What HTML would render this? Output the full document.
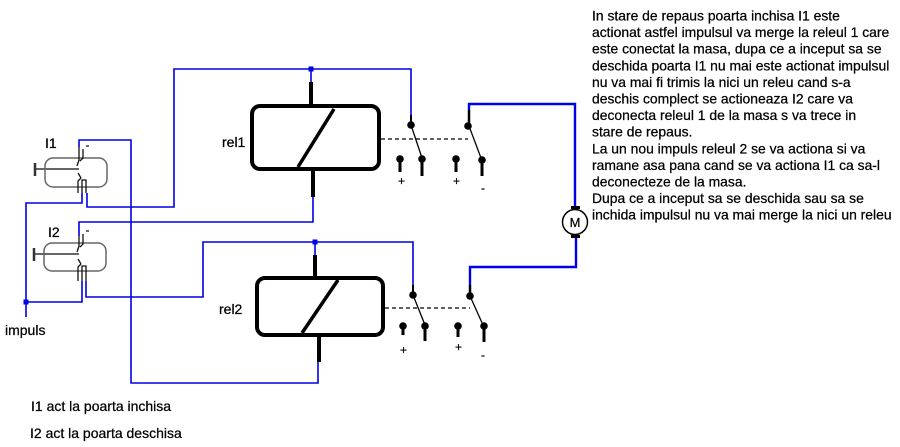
<!DOCTYPE html>
<html><head><meta charset="utf-8"><style>
html,body{margin:0;padding:0;background:#fff;}
svg{display:block;}
text{font-family:"Liberation Sans",Arial,sans-serif;fill:#000;stroke:#000;stroke-width:0.25;}
</style></head><body>
<svg width="900" height="447" viewBox="0 0 900 447" xmlns="http://www.w3.org/2000/svg">
<rect width="900" height="447" fill="#fff"/>

<!-- blue wires -->
<g fill="none" stroke="#0000e6" stroke-width="1.6">
  <polyline points="79,147 79,140 131,140 131,383 318,383 318,362"/>
  <polyline points="82,193 82,203 26,203 26,317"/>
  <polyline points="87,193 87,207 174,207 174,69 411,69 411,115"/>
  <line x1="311" y1="69" x2="311" y2="82"/>
  <polyline points="313,197 313,222 79,222 79,236"/>
  <polyline points="82,281 82,302 26,302"/>
  <polyline points="86,281 86,297 203,297 203,242 413,242 413,285"/>
  <line x1="315" y1="242" x2="315" y2="255"/>
</g>
<g fill="none" stroke="#0000e6" stroke-width="2.4">
  <polyline points="469,110 469,104 575,104 575,208"/>
  <polyline points="576,237 576,267 470,267 470,285"/>
</g>
<g fill="#0000e6">
  <rect x="308.5" y="66.5" width="5" height="5"/>
  <rect x="312.5" y="239.5" width="5" height="5"/>
  <rect x="23.5" y="299.5" width="5" height="5"/>
</g>

<!-- relay 1 -->
<g fill="none" stroke="#000" stroke-width="4">
  <rect x="252" y="106" width="127" height="63" rx="8"/>
  <line x1="311" y1="82" x2="311" y2="106"/>
  <line x1="313" y1="169" x2="313" y2="197"/>
  <line x1="298" y1="167" x2="334" y2="109" stroke-width="3.5"/>
</g>
<!-- relay 2 -->
<g fill="none" stroke="#000" stroke-width="4">
  <rect x="257" y="278" width="126" height="57" rx="8"/>
  <line x1="315" y1="255" x2="315" y2="278"/>
  <line x1="319" y1="335" x2="319" y2="362"/>
  <line x1="302" y1="333" x2="338" y2="280" stroke-width="3.5"/>
</g>

<!-- switches relay 1 -->
<g stroke="#000" fill="none">
  <line x1="381" y1="139" x2="468" y2="139" stroke-width="1.2" stroke-dasharray="4,3"/>
  <line x1="411" y1="115" x2="411" y2="125" stroke-width="2"/>
  <line x1="411" y1="125" x2="422" y2="158" stroke-width="1.3"/>
  <line x1="422" y1="159" x2="422" y2="176" stroke-width="3"/>
  <line x1="400" y1="159" x2="400" y2="172" stroke-width="3"/>
  <line x1="469" y1="110" x2="469" y2="125" stroke-width="2.5"/>
  <line x1="469" y1="126" x2="481" y2="158" stroke-width="1.3"/>
  <line x1="482" y1="160" x2="482" y2="176" stroke-width="3"/>
  <line x1="456" y1="159" x2="456" y2="172" stroke-width="3"/>
</g>
<g fill="#000">
  <circle cx="411" cy="125" r="3.8"/>
  <circle cx="422" cy="159" r="3.8"/>
  <circle cx="400" cy="159" r="3.8"/>
  <circle cx="468" cy="126" r="3.8"/>
  <circle cx="482" cy="160" r="3.8"/>
  <circle cx="456" cy="159" r="3.8"/>
</g>
<!-- switches relay 2 -->
<g stroke="#000" fill="none">
  <line x1="385" y1="308" x2="470" y2="308" stroke-width="1.2" stroke-dasharray="4,3"/>
  <line x1="413" y1="285" x2="413" y2="295" stroke-width="2"/>
  <line x1="413" y1="295" x2="425" y2="325" stroke-width="1.3"/>
  <line x1="425" y1="326" x2="425" y2="341" stroke-width="3"/>
  <line x1="403" y1="326" x2="403" y2="335" stroke-width="3"/>
  <line x1="470" y1="285" x2="470" y2="296" stroke-width="2.5"/>
  <line x1="470" y1="296" x2="483" y2="325" stroke-width="1.3"/>
  <line x1="484" y1="326" x2="484" y2="342" stroke-width="3"/>
  <line x1="458" y1="326" x2="458" y2="337" stroke-width="3"/>
</g>
<g fill="#000">
  <circle cx="413" cy="295" r="3.8"/>
  <circle cx="425" cy="326" r="3.8"/>
  <circle cx="403" cy="326" r="3.8"/>
  <circle cx="470" cy="296" r="3.8"/>
  <circle cx="484" cy="326" r="3.8"/>
  <circle cx="458" cy="326" r="3.8"/>
</g>
<g font-size="12">
  <text x="398" y="185">+</text>
  <text x="453" y="185">+</text>
  <text x="481" y="192">-</text>
  <text x="400" y="354">+</text>
  <text x="455" y="351">+</text>
  <text x="481" y="359">-</text>
</g>

<!-- motor -->
<circle cx="575" cy="222" r="12.5" fill="#fff" stroke="#000" stroke-width="1.5"/>
<rect x="571" y="206" width="9" height="3" fill="#000"/>
<rect x="571" y="235" width="9" height="3" fill="#000"/>
<text x="575" y="227" font-size="13" text-anchor="middle">M</text>

<!-- I1 switch -->
<g fill="none">
  <rect x="45" y="158" width="62" height="29" rx="8" stroke="#666" stroke-width="1.5"/>
  <line x1="35" y1="169" x2="79" y2="169" stroke="#666" stroke-width="2"/>
  <line x1="35" y1="163" x2="35" y2="176" stroke="#333" stroke-width="2.5"/>
  <path d="M79 147 V160 L77 166 M83 149 V158 L80 161 M86 146 H89" stroke="#111" stroke-width="1.3"/>
  <path d="M78 173 L81 178 M78 193 V181 L81 178 M82 193 V180 H86 V193" stroke="#111" stroke-width="1.3"/>
</g>
<!-- I2 switch -->
<g fill="none">
  <rect x="44" y="243" width="62" height="28" rx="8" stroke="#666" stroke-width="1.5"/>
  <line x1="34" y1="254" x2="79" y2="254" stroke="#666" stroke-width="2"/>
  <line x1="34" y1="248" x2="34" y2="261" stroke="#333" stroke-width="2.5"/>
  <path d="M79 236 V246 L77 252 M83 234 V244 L80 247 M86 231 H89" stroke="#111" stroke-width="1.3"/>
  <path d="M78 259 L81 264 M78 281 V267 L81 264 M82 281 V266 H86 V281" stroke="#111" stroke-width="1.3"/>
</g>

<!-- labels -->
<g font-size="14">
  <text x="45" y="148">I1</text>
  <text x="48" y="237">I2</text>
  <text x="222" y="147">rel1</text>
  <text x="219" y="314">rel2</text>
  <text x="5" y="335">impuls</text>
  <text x="31" y="411">I1 act la poarta inchisa</text>
  <text x="30" y="438">I2 act la poarta deschisa</text>
</g>

<!-- description -->
<g font-size="13.9">
  <text x="592" y="20.5">In stare de repaus poarta inchisa I1 este</text>
  <text x="592" y="37.1">actionat astfel impulsul va merge la releul 1 care</text>
  <text x="592" y="53.7">este conectat la masa, dupa ce a inceput sa se</text>
  <text x="592" y="70.3">deschida poarta I1 nu mai este actionat impulsul</text>
  <text x="592" y="86.9">nu va mai fi trimis la nici un releu cand s-a</text>
  <text x="592" y="103.5">deschis complect se actioneaza I2 care va</text>
  <text x="592" y="120.1">deconecta releul 1 de la masa s va trece in</text>
  <text x="592" y="136.7">stare de repaus.</text>
  <text x="592" y="153.3">La un nou impuls releul 2 se va actiona si va</text>
  <text x="592" y="169.9">ramane asa pana cand se va actiona I1 ca sa-l</text>
  <text x="592" y="186.5">deconecteze de la masa.</text>
  <text x="592" y="203.1">Dupa ce a inceput sa se deschida sau sa se</text>
  <text x="592" y="219.7">inchida impulsul nu va mai merge la nici un releu</text>
</g>
</svg>
</body></html>
